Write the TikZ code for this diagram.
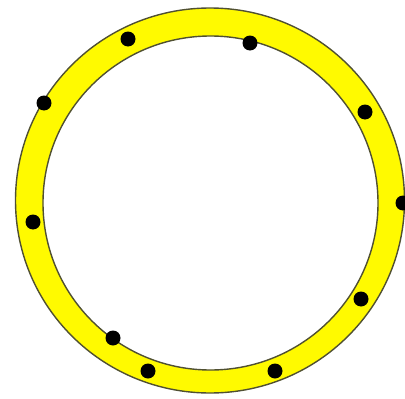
\documentclass[tikz,border=0pt]{standalone}
\definecolor{ringyellow}{RGB}{255,250,0}
\definecolor{ringedge}{RGB}{80,80,50}
\begin{document}
\begin{tikzpicture}[x=1pt,y=-1pt,
  ringline/.style={draw=ringedge, line width=1.4pt},
  dot/.style={fill=black}]
\useasboundingbox (0,0) rectangle (405,399);
\fill[white] (0,0) rectangle (405,399);
\fill[ringyellow, even odd rule] (210,200.5) circle[x radius=194.5, y radius=192.5] (210.5,203) circle[x radius=167.5, y radius=167];
\draw[ringline] (210,200.5) circle[x radius=194.5, y radius=192.5];
\draw[ringline] (210.5,203) circle[x radius=167.5, y radius=167];
\foreach \p in {(128,39),(250,43),(44,103),(365,112),(33,222),(403,203),(361,299),(113,338),(148,371),(275,371)}
  \fill[dot] \p circle[radius=7.5];
\end{tikzpicture}
\end{document}
